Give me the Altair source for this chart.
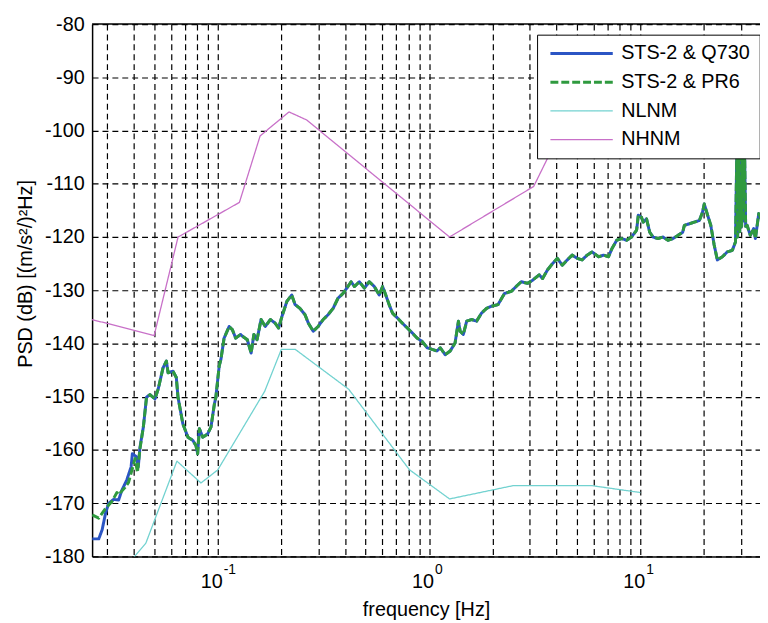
import altair as alt
import pandas as pd
import numpy as np

FONT = "Liberation Sans"

series_names = ["STS-2 & Q730", "STS-2 & PR6", "NLNM", "NHNM"]
series_colors = ["#2b55c4", "#2f9a3f", "#72d2d0", "#c870c8"]
series_dash = [[1, 0], [8, 3], [1, 0], [1, 0]]
series_width = [3, 3, 1.3, 1.3]

# low-frequency parts where the two recordings differ (log10 of frequency in Hz)
q730_low_log10f = [-1.594, -1.563, -1.547, -1.531, -1.516, -1.493, -1.469, -1.454,
                   -1.431, -1.410, -1.404, -1.384, -1.376, -1.368]
q730_low_db = [-176.7, -176.7, -175.0, -171.9, -170.0, -169.3, -169.4, -167.6,
               -165.7, -163.2, -160.7, -161.3, -163.2, -159.5]

pr6_low_log10f = [-1.594, -1.563, -1.531, -1.501, -1.477, -1.469, -1.438, -1.422,
                  -1.391, -1.380, -1.368]
pr6_low_db = [-172.2, -172.8, -171.0, -169.7, -168.0, -168.4, -167.0, -166.1,
              -161.6, -164.2, -159.8]

# common part of both spectra
sts_log10f = [
    -1.352, -1.337, -1.321, -1.297, -1.282, -1.259, -1.243, -1.235, -1.212, -1.196,
    -1.188, -1.165, -1.141, -1.118, -1.103, -1.095, -1.087, -1.071, -1.048, -1.032,
    -1.016, -1.009, -0.993, -0.985, -0.970, -0.946, -0.931, -0.915, -0.892, -0.884,
    -0.860, -0.842, -0.829, -0.814, -0.795, -0.775, -0.751, -0.728, -0.712, -0.696,
    -0.673, -0.650, -0.634, -0.611, -0.587, -0.571, -0.548, -0.525, -0.501, -0.478,
    -0.454, -0.431, -0.407, -0.384, -0.369, -0.353, -0.330, -0.306, -0.283, -0.259,
    -0.236, -0.220, -0.205, -0.189, -0.173, -0.150, -0.126, -0.103, -0.080, -0.056,
    -0.033, -0.009, 0.014, 0.037, 0.053, 0.076, 0.100, 0.123, 0.139, 0.147,
    0.162, 0.178, 0.201, 0.225, 0.248, 0.272, 0.295, 0.326, 0.357, 0.389,
    0.412, 0.436, 0.467, 0.490, 0.521, 0.537, 0.560, 0.584, 0.607, 0.630,
    0.654, 0.677, 0.701, 0.724, 0.748, 0.771, 0.802, 0.826, 0.849, 0.865,
    0.888, 0.911, 0.935, 0.958, 0.982, 0.990, 1.005, 1.013, 1.029, 1.044,
    1.060, 1.083, 1.107, 1.130, 1.154, 1.177, 1.200, 1.208, 1.232, 1.255,
    1.279, 1.294, 1.302, 1.318, 1.333, 1.349, 1.364, 1.388, 1.411, 1.435,
    1.450, 1.456, 1.460, 1.465, 1.470, 1.474, 1.479, 1.484, 1.488, 1.493,
    1.498, 1.505, 1.520, 1.536, 1.544, 1.560, 1.570,
]
sts_db = [
    -155.7, -150.1, -149.6, -150.4, -148.6, -144.6, -143.3, -145.5, -145.2, -146.4,
    -150.1, -155.1, -157.6, -158.2, -159.2, -160.7, -156.0, -157.6, -157.0, -155.7,
    -151.4, -150.1, -144.2, -143.0, -139.0, -136.8, -137.4, -139.0, -138.3, -138.6,
    -139.3, -141.8, -138.3, -139.3, -135.5, -136.8, -135.5, -136.2, -137.1, -134.9,
    -132.1, -130.9, -132.7, -133.4, -134.6, -136.2, -137.7, -136.8, -135.5, -134.6,
    -133.4, -131.5, -130.6, -129.3, -128.4, -129.3, -128.4, -129.6, -128.4, -129.3,
    -130.9, -129.3, -130.9, -132.7, -134.3, -135.2, -136.2, -137.1, -138.0, -139.0,
    -139.6, -140.8, -141.1, -141.4, -140.8, -142.1, -141.4, -139.9, -135.8, -137.7,
    -138.3, -135.8, -135.5, -135.8, -134.3, -133.4, -133.0, -132.7, -130.6, -130.2,
    -129.3, -128.4, -128.7, -128.1, -127.1, -127.8, -126.2, -125.0, -124.0, -125.3,
    -124.3, -123.4, -124.0, -124.3, -123.4, -122.8, -123.7, -123.4, -123.7, -122.2,
    -120.6, -120.3, -120.6, -120.0, -118.7, -115.9, -116.3, -117.2, -116.6, -119.1,
    -120.0, -120.3, -120.0, -120.6, -120.3, -119.7, -119.1, -117.8, -117.5, -117.2,
    -116.9, -115.3, -113.8, -115.9, -117.8, -121.5, -124.3, -123.7, -122.8, -122.5,
    -120.9, -104.0, -120.0, -102.0, -119.0, -103.0, -118.0, -102.0, -117.0, -104.0,
    -118.0, -117.8, -119.7, -118.4, -120.3, -115.6, -116.5,
]

# Peterson noise models
nlnm_freq = [0.0316, 0.0457, 0.0641, 0.0833, 0.1, 0.1667, 0.2, 0.2326, 0.4167,
             0.8065, 1.25, 2.5, 5.882, 10.0]
nlnm_db = [-185.0, -177.5, -162.1, -166.2, -163.75, -149.0, -141.1, -141.1, -148.6,
           -163.7, -169.2, -166.7, -166.7, -168.0]

nhnm_freq = [0.0254, 0.05, 0.0649, 0.1266, 0.1587, 0.2174, 0.2632, 1.25, 3.125,
             4.545, 10.0]
nhnm_db = [-135.5, -138.5, -120.0, -113.5, -101.0, -96.5, -98.0, -120.0, -110.5,
           -97.4, -91.5]

y_ticks = [-180, -170, -160, -150, -140, -130, -120, -110, -100, -90, -80]
x_ticks = [0.03, 0.04, 0.05, 0.06, 0.07, 0.08, 0.09,
           0.1, 0.2, 0.3, 0.4, 0.5, 0.6, 0.7, 0.8, 0.9,
           1, 2, 3, 4, 5, 6, 7, 8, 9, 10, 20, 30]
decade_freq = [0.1, 1, 10]
decade_base = ["10", "10", "10"]
decade_exponent = ["-1", "0", "1"]

rows = []
def add(name, freqs, dbs):
    for i, (f, d) in enumerate(zip(freqs, dbs)):
        rows.append({"series": name, "freq": float(f), "psd": float(d), "idx": i})

q730_f = list(10 ** np.array(q730_low_log10f + sts_log10f))
pr6_f = list(10 ** np.array(pr6_low_log10f + sts_log10f))
add("STS-2 & Q730", q730_f, q730_low_db + sts_db)
add("STS-2 & PR6", pr6_f, pr6_low_db + sts_db)
add("NLNM", nlnm_freq, nlnm_db)
add("NHNM", nhnm_freq, nhnm_db)
df = pd.DataFrame(rows)

x_scale = alt.Scale(type="log", domain=[0.02544, 36.8])
y_scale = alt.Scale(domain=[-180, -80])

x_enc = alt.X(
    "freq:Q",
    scale=x_scale,
    axis=alt.Axis(
        values=x_ticks, labels=False,
        grid=True, gridColor="black", gridDash=[6, 4], gridWidth=1.2,
        ticks=False, domainColor="black", domainWidth=1.5,
        title="frequency [Hz]", titleFont=FONT, titleFontSize=20,
        titleFontWeight="normal", titleColor="black", titleY=44,
    ),
)
y_enc = alt.Y(
    "psd:Q",
    scale=y_scale,
    axis=alt.Axis(
        values=y_ticks, labelExpr="datum.value + ''",
        grid=True, gridColor="black", gridDash=[6, 4], gridWidth=1.2,
        ticks=False, domainColor="black", domainWidth=1.5,
        labelFont=FONT, labelFontSize=20, labelColor="black", labelPadding=8,
        title="PSD (dB) [(m/s\u00b2/)\u00b2Hz]", titleFont=FONT, titleFontSize=20,
        titleFontWeight="normal", titleColor="black",
        titleX=-57, titleY=252, titleBaseline="bottom", titleAlign="center",
    ),
)

legend = alt.Legend(
    title=None, orient="none", legendX=449.7, legendY=10.7,
    fillColor="white", strokeColor="black", padding=9, symbolOffset=3,
    symbolType="stroke", symbolSize=3969, clipHeight=20, rowPadding=9,
    labelFont=FONT, labelFontSize=20, labelColor="black", labelOffset=7,
    cornerRadius=0,
)

color_enc = alt.Color("series:N", scale=alt.Scale(domain=series_names, range=series_colors), legend=legend)
dash_enc = alt.StrokeDash("series:N", scale=alt.Scale(domain=series_names, range=series_dash), legend=legend)
width_enc = alt.StrokeWidth("series:N", scale=alt.Scale(type="ordinal", domain=series_names, range=series_width), legend=legend)

base = alt.Chart(df)
layers = []
for name in series_names:
    layers.append(
        base.transform_filter(alt.datum.series == name)
        .mark_line(clip=True, strokeJoin="round")
        .encode(x=x_enc, y=y_enc, color=color_enc, strokeDash=dash_enc,
                strokeWidth=width_enc, order="idx:Q")
    )

top_border = alt.Chart(pd.DataFrame({"psd": [-80]})).mark_rule(
    color="black", strokeWidth=1.5
).encode(y=alt.Y("psd:Q", scale=y_scale))

tick_df = pd.DataFrame({"freq": decade_freq, "base": decade_base,
                        "exp": decade_exponent, "psd": [-180] * 3})
tick_base = alt.Chart(tick_df).mark_text(
    align="right", baseline="top", dx=5, dy=16, font=FONT, fontSize=20, color="black"
).encode(x=alt.X("freq:Q", scale=x_scale), y=alt.Y("psd:Q", scale=y_scale), text="base:N")
tick_exp = alt.Chart(tick_df).mark_text(
    align="left", baseline="top", dx=6, dy=7, font=FONT, fontSize=14, color="black"
).encode(x=alt.X("freq:Q", scale=x_scale), y=alt.Y("psd:Q", scale=y_scale), text="exp:N")

chart = alt.layer(*layers, top_border, tick_base, tick_exp).properties(
    width=675, height=538,
    padding={"left": 85, "top": 13, "right": 0, "bottom": 62},
    autosize=alt.AutoSizeParams(type="none"),
    background="white",
).configure_view(strokeWidth=0)

chart.save("out.html", embed_options={"renderer": "svg", "actions": False})
